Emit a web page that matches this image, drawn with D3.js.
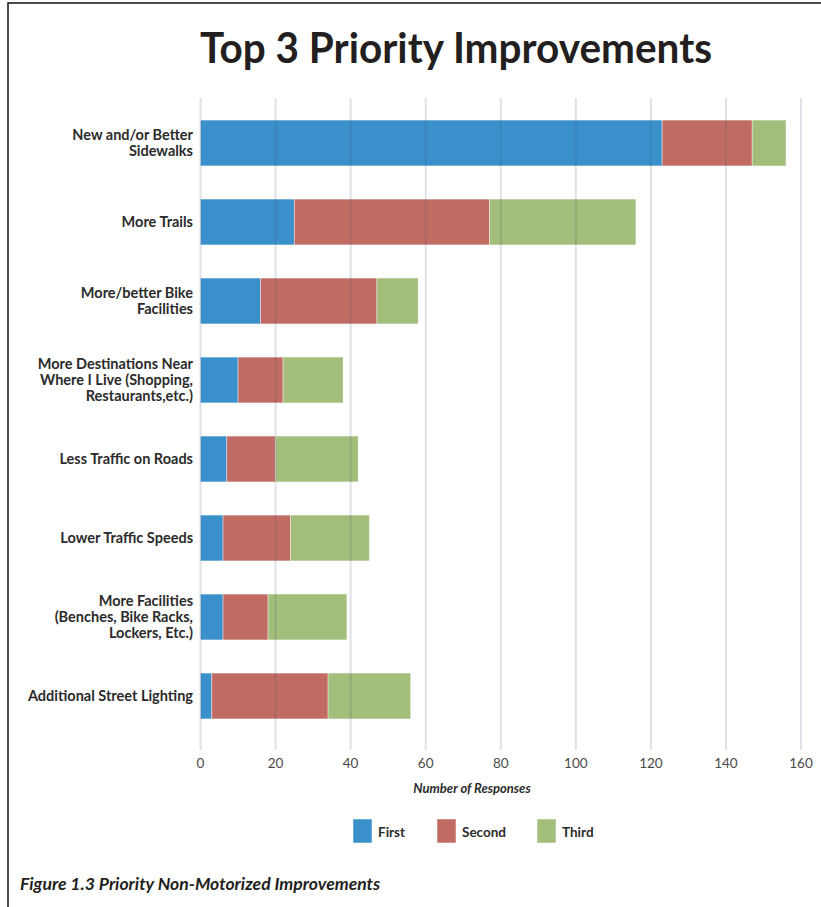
<!DOCTYPE html>
<html>
<head>
<meta charset="utf-8">
<script src="https://cdn.jsdelivr.net/npm/d3@7"></script>
<style>
  body { margin: 0; background: #fff; }
  text { font-family: Lato, "Open Sans", sans-serif; }
</style>
</head>
<body>
<div id="chart"></div>
<script>
"use strict";

// ***** data *****
const categories = ["New and/or Better\nSidewalks", "More Trails", "More/better Bike\nFacilities",
                    "More Destinations Near\nWhere I Live (Shopping,\nRestaurants,etc.)",
                    "Less Traffic on Roads", "Lower Traffic Speeds",
                    "More Facilities\n(Benches, Bike Racks,\nLockers, Etc.)", "Additional Street Lighting"];
const first  = [123, 25, 16, 10, 7, 6, 6, 3];
const second = [24, 52, 31, 12, 13, 18, 12, 31];
const third  = [9, 39, 11, 16, 22, 21, 21, 22];
const seriesNames = ["First", "Second", "Third"];
const xTicks = [0, 20, 40, 60, 80, 100, 120, 140, 160];

const colors = ["#3a90cb", "#c06c64", "#a3bd7a"];

// ***** layout *****
const W = 821, H = 907;
const x = d3.scaleLinear().domain([0, 160]).range([200.5, 801]);
const y = d3.scaleBand().domain(d3.range(categories.length))
    .range([103.5, 735.5]).paddingInner(0.42).paddingOuter(0.21);

const svg = d3.select("#chart").append("svg")
    .attr("width", W).attr("height", H);

// page frame
svg.append("rect")
    .attr("x", 8).attr("y", 3).attr("width", W + 20).attr("height", H + 20)
    .attr("fill", "none").attr("stroke", "#111").attr("stroke-width", 1.5);

// title
svg.append("text")
    .attr("x", 456).attr("y", 63)
    .attr("text-anchor", "middle")
    .attr("font-family", "'Liberation Sans Narrow', 'DejaVu Sans Condensed', sans-serif")
    .attr("font-weight", "bold")
    .attr("font-size", 42)
    .attr("textLength", 512)
    .attr("lengthAdjust", "spacingAndGlyphs")
    .attr("fill", "#231f20")
    .text("Top 3 Priority Improvements");

// stacked data
const rows = categories.map((c, i) => ({ i, vals: [first[i], second[i], third[i]] }));

const barG = svg.append("g");
rows.forEach(r => {
    let acc = 0;
    r.vals.forEach((v, k) => {
        barG.append("rect")
            .attr("x", x(acc))
            .attr("y", y(r.i))
            .attr("width", x(acc + v) - x(acc))
            .attr("height", y.bandwidth())
            .attr("fill", colors[k])
            .attr("stroke", "rgba(255,255,255,0.5)")
            .attr("stroke-width", 0.8);
        acc += v;
    });
});

// grid lines on top of bars
svg.append("g").selectAll("line")
    .data(xTicks)
    .enter()
    .append("line")
    .attr("x1", d => x(d)).attr("x2", d => x(d))
    .attr("y1", 98).attr("y2", 750)
    .attr("stroke", "rgba(70,75,110,0.17)")
    .attr("stroke-width", 2);

// tick labels
svg.append("g").selectAll("text")
    .data(xTicks)
    .enter()
    .append("text")
    .attr("x", d => x(d))
    .attr("y", 768)
    .attr("text-anchor", "middle")
    .attr("font-size", 13.5)
    .attr("fill", "#4a4a4a")
    .text(d => d);

// axis title
svg.append("text")
    .attr("x", 472).attr("y", 793)
    .attr("text-anchor", "middle")
    .attr("font-size", 13)
    .attr("font-weight", "bold")
    .attr("font-style", "italic")
    .attr("fill", "#2b2b2b")
    .text("Number of Responses");

// category labels
const lineH = 15.6;
svg.append("g").selectAll("text")
    .data(categories)
    .enter()
    .append("text")
    .attr("text-anchor", "end")
    .attr("font-size", 14.5)
    .attr("font-weight", "bold")
    .attr("fill", "#2b2b2b")
    .each(function(d, i) {
        const lines = d.split("\n");
        const cy = y(i) + y.bandwidth() / 2;
        const top = cy - (lines.length - 1) * lineH / 2;
        d3.select(this).selectAll("tspan")
            .data(lines)
            .enter()
            .append("tspan")
            .attr("x", 193)
            .attr("y", (l, j) => top + j * lineH + 5)
            .text(l => l);
    });

// legend
const legX = [353, 437, 537];
const leg = svg.append("g").selectAll("g")
    .data(seriesNames)
    .enter()
    .append("g")
    .attr("transform", (d, i) => `translate(${legX[i]}, 819)`);
leg.append("rect")
    .attr("width", 19).attr("height", 24)
    .attr("fill", (d, i) => colors[i])
    .attr("stroke", "rgba(255,255,255,0.5)");
leg.append("text")
    .attr("x", 25).attr("y", 17.5)
    .attr("font-size", 13.5)
    .attr("font-weight", "bold")
    .attr("fill", "#2b2b2b")
    .text(d => d);

// caption
svg.append("text")
    .attr("x", 20).attr("y", 890)
    .attr("font-size", 17.6)
    .attr("font-weight", "bold")
    .attr("font-style", "italic")
    .attr("fill", "#231f20")
    .text("Figure 1.3 Priority Non-Motorized Improvements");
</script>
</body>
</html>
